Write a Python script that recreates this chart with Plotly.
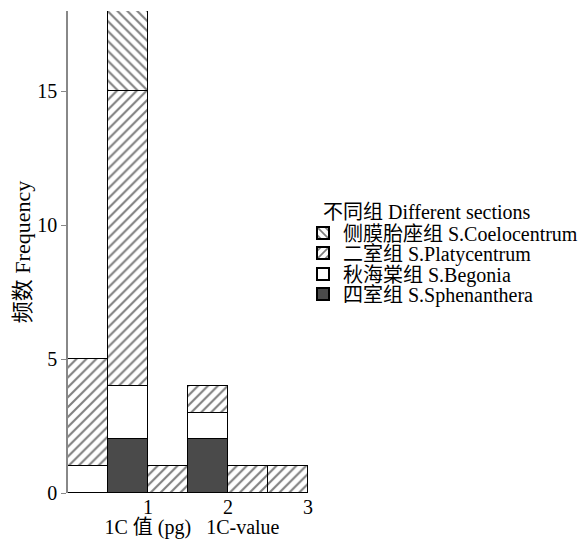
import plotly.graph_objects as go

# 1C-value bins (pg), width 0.5
bin_centers = [0.25, 0.75, 1.25, 1.75, 2.25, 2.75]
bin_width = 0.5

sphenanthera = [0, 2, 0, 2, 0, 0]
begonia = [1, 2, 0, 1, 0, 0]
platycentrum = [4, 11, 1, 1, 1, 1]
coelocentrum = [0, 3, 0, 0, 0, 0]

y_ticks = [0, 5, 10, 15]

FONT = "Liberation Serif, Noto Sans CJK SC"

# plot area in pixels
L, T, W, H = 68, 11, 248, 482

def px_x(x):
    return (x - L) / W

def px_y(y):
    return (T + H - y) / H

# name, values, fill, hatch, legend id, legend row centre (px)
series = [
    ("四室组 S.Sphenanthera", sphenanthera, "#4a4a4a", "", "legend4", 294),
    ("秋海棠组 S.Begonia", begonia, "white", "", "legend3", 274),
    ("二室组 S.Platycentrum", platycentrum, "white", "/", "legend2", 253),
    ("侧膜胎座组 S.Coelocentrum", coelocentrum, "white", "\\", "legend", 233),
]

fig = go.Figure()
legends = {}
for name, vals, color, shape, leg, row_y in series:
    fig.add_trace(go.Bar(
        x=bin_centers, y=vals, width=bin_width, name=name, legend=leg,
        showlegend=True,
        marker=dict(
            color=color,
            line=dict(color="black", width=1),
            pattern=dict(shape=shape, fgcolor="black", bgcolor="white",
                         size=7, solidity=0.3) if shape else None,
        ),
    ))
    legends[leg] = dict(
        x=px_x(303), xanchor="left", y=px_y(row_y), yanchor="middle",
        font=dict(family=FONT, size=20), itemsizing="constant",
        bgcolor="rgba(0,0,0,0)", borderwidth=0, visible=True,
    )

fig.add_annotation(
    text="不同组 Different sections", xref="paper", yref="paper",
    x=px_x(321), y=px_y(212), xanchor="left", yanchor="middle",
    showarrow=False, font=dict(family=FONT, size=20),
)

fig.update_layout(
    barmode="stack",
    showlegend=True,
    width=586, height=539,
    margin=dict(l=L, r=586 - L - W, t=T, b=539 - T - H, autoexpand=False),
    plot_bgcolor="white", paper_bgcolor="white",
    font=dict(family=FONT, size=20, color="black"),
    xaxis=dict(
        range=[0, 3.1], tickvals=[1, 2, 3], ticks="", showgrid=False,
        zeroline=False, showline=False, automargin=False,
        tickfont=dict(family=FONT, size=20),
        title=dict(text="1C 值 (pg)   1C-value", standoff=6,
                   font=dict(family=FONT, size=20)),
    ),
    yaxis=dict(
        range=[0, 18], tickvals=y_ticks, ticks="outside", ticklen=5,
        tickcolor="#888", showline=True, linecolor="#888", linewidth=1.5,
        showgrid=False, zeroline=False, automargin=False,
        tickfont=dict(family=FONT, size=20),
        title=dict(text="频数 Frequency", standoff=1,
                   font=dict(family=FONT, size=22)),
    ),
    bargap=0,
    **legends,
)

fig.write_html("out.html")
